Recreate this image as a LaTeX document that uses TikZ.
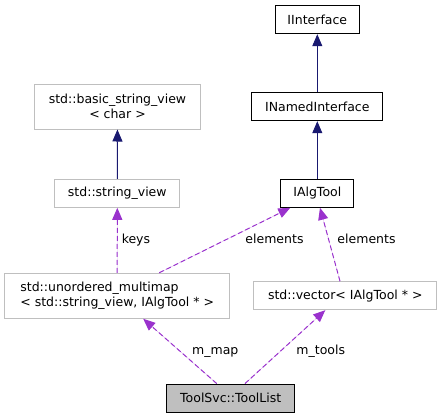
\documentclass[tikz,border=0pt]{standalone}
\usepackage{fontspec}
\setmainfont{DejaVu Sans}
\usetikzlibrary{arrows.meta}
\definecolor{inhblue}{HTML}{191970}
\definecolor{usepurple}{HTML}{9A32CD}
\definecolor{boxgray}{HTML}{BFBFBF}
\begin{document}
\begin{tikzpicture}[x=1pt,y=-1pt,>={Triangle[length=12pt,width=10pt]},
	font=\fontsize{12.5}{15}\selectfont,
	cls/.style={draw=black,line width=1pt,inner sep=0pt},
	ext/.style={draw=boxgray,line width=1pt,inner sep=0pt},
	inh/.style={draw=inhblue,fill=inhblue,line width=1pt},
	use/.style={draw=usepurple,fill=usepurple,line width=1pt,dash pattern=on 5pt off 3pt},
	lbl/.style={fill=none,inner sep=1pt,text=black,text height=9pt,text depth=3pt}]
	\useasboundingbox (0,0) rectangle (442,418);
	% classes
	\node[cls,minimum width=84,minimum height=28] (iif) at (317.3,19.7) {IInterface};
	\node[cls,minimum width=130.7,minimum height=28] (inamed) at (317.3,106.7) {INamedInterface};
	\node[cls,minimum width=72.7,minimum height=27.6] (ialg) at (317.3,193.5) {IAlgTool};
	\node[ext,minimum width=165.6,minimum height=45,align=center] (bsv) at (117.5,106.5) {std::basic\_string\_view\\< char >};
	\node[ext,minimum width=124.7,minimum height=28] (sv) at (117.3,193.3) {std::string\_view};
	\node[ext,minimum width=225,minimum height=45,align=left] (umm) at (117.2,295.8) {std::unordered\_multimap\\< std::string\_view, IAlgTool * >};
	\node[ext,minimum width=182.7,minimum height=28] (vec) at (345.3,295.7) {std::vector< IAlgTool * >};
	\node[cls,fill=boxgray,minimum width=128,minimum height=28.3] (tl) at (230.7,398.2) {ToolSvc::ToolList};
	% inheritance
	\draw[inh,->] (inamed) -- (iif);
	\draw[inh,->] (ialg) -- (inamed);
	\draw[inh,->] (sv) -- (bsv);
	% usage
	\draw[use,->] (umm.north) -- (sv.south) node[lbl,midway,right=3pt]{keys};
	\draw[use,->] ([xshift=42pt]umm.north) -- ([xshift=-27pt]ialg.south) node[lbl,pos=0.494,right=20pt]{elements};
	\draw[use,->] ([xshift=-5.3pt]vec.north) -- ([xshift=2.7pt]ialg.south) node[lbl,pos=0.551,right=7pt]{elements};
	\draw[use,->] ([xshift=-14pt]tl.north) -- ([xshift=26pt]umm.south) node[lbl,pos=0.49,right=10pt]{m\_map};
	\draw[use,->] ([xshift=14.3pt]tl.north) -- ([xshift=-20pt]vec.south) node[lbl,pos=0.435,right=15pt]{m\_tools};
\end{tikzpicture}
\end{document}
